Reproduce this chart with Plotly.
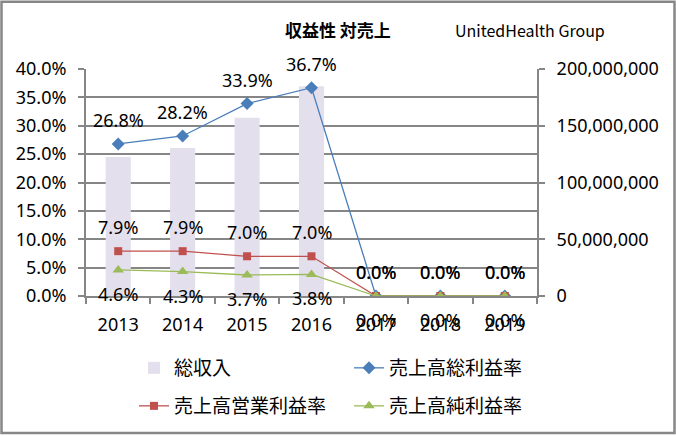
import plotly.graph_objects as go

years = ["2013", "2014", "2015", "2016", "2017", "2018", "2019"]
revenue = [122489000, 130474000, 157107000, 184840000, 0, 0, 0]
gross_margin = [0.268, 0.282, 0.339, 0.367, 0.0, 0.0, 0.0]
operating_margin = [0.079, 0.079, 0.070, 0.070, 0.0, 0.0, 0.0]
net_margin = [0.046, 0.043, 0.037, 0.038, 0.0, 0.0, 0.0]

pct_ticks = [0, 0.05, 0.10, 0.15, 0.20, 0.25, 0.30, 0.35, 0.40]
rev_ticks = [0, 50000000, 100000000, 150000000, 200000000]
rev_tick_text = ["0", "50,000,000", "100,000,000", "150,000,000", "200,000,000"]

NUM_FONT = "Noto Sans, DejaVu Sans, sans-serif"
JP_FONT = "Noto Sans CJK JP, sans-serif"
GRID = "#868686"

W, H = 676, 436
L, R, T, B = 86, 139, 69, 139
PW, PH = W - L - R, H - T - B


def px_to_paper_x(px):
    return (px - L) / PW


def px_to_paper_y(py):
    return (H - B - py) / PH


fig = go.Figure()

fig.add_trace(go.Bar(
    x=years, y=revenue, name="総収入", yaxis="y",
    marker=dict(color="#E4DFEC", line=dict(width=0)),
    width=0.39, legend="legend",
))
fig.add_trace(go.Scatter(
    x=years, y=gross_margin, name="売上高総利益率", mode="lines+markers", yaxis="y2",
    line=dict(color="#4A7EBB", width=1.3),
    marker=dict(symbol="diamond", size=10, color="#4A7EBB"),
    legend="legend",
))
fig.add_trace(go.Scatter(
    x=years, y=operating_margin, name="売上高営業利益率", mode="lines+markers", yaxis="y2",
    line=dict(color="#C0504D", width=1.3),
    marker=dict(symbol="square", size=8, color="#C0504D"),
    legend="legend2",
))
fig.add_trace(go.Scatter(
    x=years, y=net_margin, name="売上高純利益率", mode="lines+markers", yaxis="y2",
    line=dict(color="#9BBB59", width=1.3),
    marker=dict(symbol="triangle-up", size=10, color="#9BBB59"),
    legend="legend2",
))

annotations = []
for series, shift in ((gross_margin, 24), (operating_margin, 24), (net_margin, -24)):
    for i, v in enumerate(series):
        annotations.append(dict(
            x=i, y=v, xref="x", yref="y2", text=f"{v*100:.1f}%",
            showarrow=False, yshift=shift, xanchor="center", yanchor="middle",
            font=dict(family=NUM_FONT, size=18, color="#000000"),
        ))

annotations.append(dict(
    x=px_to_paper_x(338), y=px_to_paper_y(29), xref="paper", yref="paper",
    text="<b>収益性 対売上</b>", showarrow=False, xanchor="center", yanchor="middle",
    font=dict(family=JP_FONT, size=17, color="#000000"),
))
annotations.append(dict(
    x=px_to_paper_x(530), y=px_to_paper_y(30), xref="paper", yref="paper",
    text="UnitedHealth Group", showarrow=False, xanchor="center", yanchor="middle",
    font=dict(family=JP_FONT, size=16, color="#000000"),
))

fig.update_layout(
    width=W, height=H,
    margin=dict(l=L, r=R, t=T, b=B),
    paper_bgcolor="white", plot_bgcolor="white",
    font=dict(family=NUM_FONT, size=18, color="#000000"),
    xaxis=dict(
        type="category", range=[-0.5, 6.5],
        showline=True, linecolor=GRID, linewidth=2,
        ticks="outside", tickson="boundaries", ticklen=6, tickcolor=GRID, tickwidth=2,
        showgrid=False, ticklabelstandoff=11,
        tickfont=dict(family=NUM_FONT, size=18),
    ),
    yaxis=dict(
        range=[0, 200000000], tickvals=rev_ticks, ticktext=rev_tick_text,
        side="right",
        showline=True, linecolor=GRID, linewidth=2,
        ticks="outside", ticklen=6, tickcolor=GRID, tickwidth=2,
        showgrid=False, zeroline=False, ticklabelstandoff=8,
        tickfont=dict(family=NUM_FONT, size=18),
    ),
    yaxis2=dict(
        range=[0, 0.4], tickvals=pct_ticks, tickformat=".1%",
        overlaying="y", side="left",
        showline=True, linecolor=GRID, linewidth=2,
        ticks="outside", ticklen=6, tickcolor=GRID, tickwidth=2,
        showgrid=True, gridcolor=GRID, gridwidth=2, zeroline=False,
        ticklabelstandoff=8,
        tickfont=dict(family=NUM_FONT, size=18),
    ),
    legend=dict(
        orientation="h", x=px_to_paper_x(134), y=px_to_paper_y(368),
        xanchor="left", yanchor="middle",
        entrywidth=170, entrywidthmode="pixels",
        font=dict(family=JP_FONT, size=19), bgcolor="rgba(0,0,0,0)",
        traceorder="normal",
    ),
    legend2=dict(
        orientation="h", x=px_to_paper_x(134), y=px_to_paper_y(406),
        xanchor="left", yanchor="middle",
        entrywidth=170, entrywidthmode="pixels",
        font=dict(family=JP_FONT, size=19), bgcolor="rgba(0,0,0,0)",
        traceorder="normal",
    ),
    annotations=annotations,
    shapes=[dict(
        type="rect", xref="paper", yref="paper",
        x0=px_to_paper_x(1.5), x1=px_to_paper_x(674.5),
        y0=px_to_paper_y(434.5), y1=px_to_paper_y(1.5),
        line=dict(color="#878787", width=2.5), fillcolor="rgba(0,0,0,0)",
        layer="below",
    )],
)

fig.write_html(
    "out.html",
    config={"displayModeBar": False},
    post_script="document.body.style.margin='0px';document.body.style.padding='0px';",
)
